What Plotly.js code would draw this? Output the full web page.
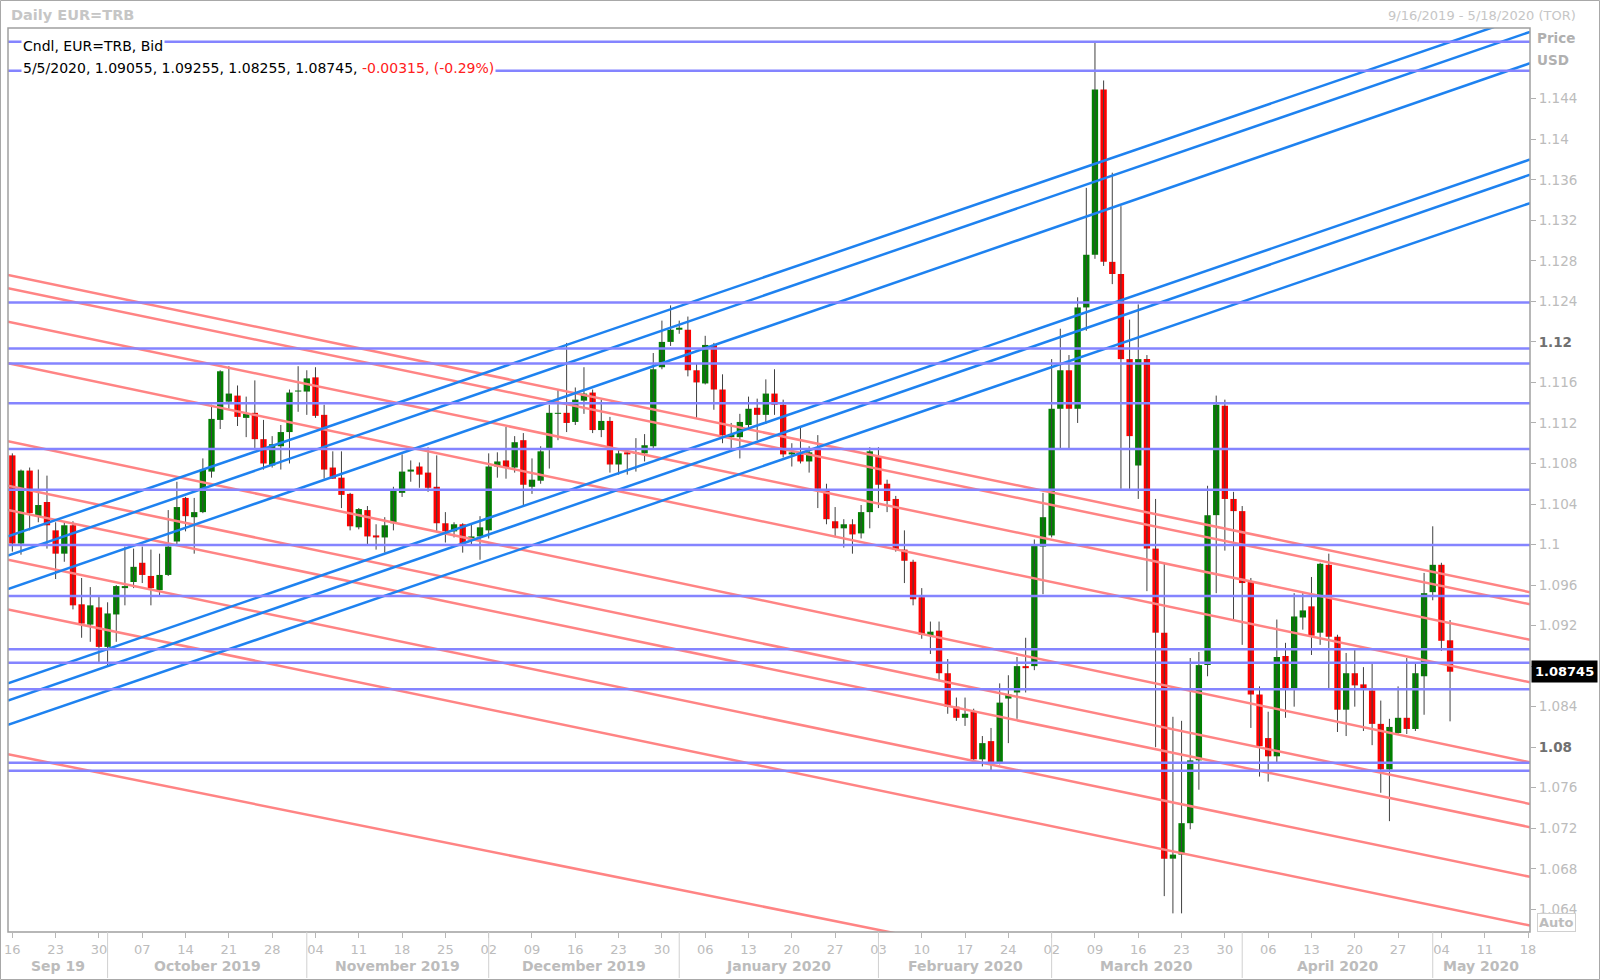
<!DOCTYPE html>
<html><head><meta charset="utf-8">
<script src="https://cdn.plot.ly/plotly-3.0.1.min.js"></script>
<style>html,body{margin:0;padding:0;background:#fff}#chart{width:1600px;height:980px}</style>
</head><body><div id="chart"></div>
<script>
// ---- data ----
const firstDay = '2019-09-16';
const axisLastDay = '2020-05-18';
const openP = [1.1088,1.1001,1.1073,1.1028,1.1042,1.1014,1.0991,1.1019,1.0941,1.0921,
1.0938,1.0899,1.0931,1.0957,1.0963,1.0982,1.0969,1.0955,1.0970,1.1003,
1.1046,1.1027,1.1032,1.1072,1.1123,1.1141,1.1147,1.1125,1.1130,1.1104,
1.1078,1.1097,1.1111,1.1151,1.1151,1.1165,1.1128,1.1076,1.1066,1.1050,
1.1017,1.1034,1.1009,1.1007,1.1021,1.1051,1.1072,1.1077,1.1071,1.1057,
1.1021,1.1013,1.1020,1.1005,1.1008,1.1014,1.1077,1.1083,1.1076,1.1103,
1.1057,1.1063,1.1095,1.1129,1.1130,1.1121,1.1142,1.1150,1.1113,1.1122,
1.1079,1.1091,1.1090,1.1090,1.1097,1.1175,1.1200,1.1212,1.1212,1.1172,
1.1159,1.1197,1.1153,1.1106,1.1106,1.1118,1.1135,1.1128,1.1149,1.1138,
1.1089,1.1089,1.1082,1.1094,1.1053,1.1023,1.1016,1.1020,1.1011,1.1032,
1.1087,1.1060,1.1045,1.0995,1.0983,1.0948,1.0910,1.0915,1.0873,1.0840,
1.0829,1.0835,1.0788,1.0806,1.0785,1.0848,1.0854,1.0880,1.0880,1.0998,
1.1009,1.1134,1.1172,1.1134,1.1234,1.1286,1.1449,1.1279,1.1267,1.1183,
1.1078,1.1183,1.0996,1.0913,1.0690,1.0694,1.0725,1.0787,1.0881,1.1029,
1.1137,1.1045,1.1033,1.0963,1.0852,1.0809,1.0791,1.0890,1.0858,1.0928,
1.0939,1.0913,1.0980,1.0909,1.0837,1.0873,1.0862,1.0856,1.0823,1.0778,
1.0814,1.0829,1.0818,1.0870,1.0953,1.0980,1.09055];
const highP = [1.1090,1.1074,1.1076,1.1074,1.1068,1.1022,1.1022,1.1023,1.0967,1.0958,
1.0949,1.0943,1.0960,1.0998,1.0996,1.0998,1.0995,1.0991,1.1034,1.1062,
1.1047,1.1046,1.1085,1.1138,1.1172,1.1176,1.1157,1.1146,1.1162,1.1123,
1.1107,1.1118,1.1153,1.1176,1.1172,1.1175,1.1138,1.1092,1.1092,1.1051,
1.1036,1.1038,1.1020,1.1027,1.1057,1.1089,1.1083,1.1081,1.1096,1.1088,
1.1032,1.1022,1.1021,1.1020,1.1028,1.1090,1.1091,1.1116,1.1107,1.1110,
1.1085,1.1097,1.1138,1.1153,1.1199,1.1155,1.1175,1.1153,1.1143,1.1126,
1.1093,1.1093,1.1105,1.1109,1.1189,1.1221,1.1236,1.1221,1.1225,1.1179,
1.1206,1.1199,1.1168,1.1120,1.1129,1.1146,1.1144,1.1163,1.1173,1.1143,
1.1100,1.1116,1.1097,1.1108,1.1060,1.1037,1.1025,1.1025,1.1039,1.1096,
1.1096,1.1064,1.1048,1.1014,1.0985,1.0957,1.0924,1.0924,1.0887,1.0849,
1.0849,1.0838,1.0811,1.0819,1.0863,1.0871,1.0889,1.0908,1.1005,1.1051,
1.1183,1.1213,1.1187,1.1244,1.1352,1.1495,1.1458,1.1367,1.1334,1.1222,
1.1237,1.1187,1.1045,1.0981,1.0830,1.0826,1.0888,1.0894,1.1058,1.1147,
1.1143,1.1052,1.1038,1.0967,1.0860,1.0835,1.0926,1.0903,1.0952,1.0952,
1.0968,1.0982,1.0991,1.0911,1.0893,1.0896,1.0879,1.0884,1.0846,1.0828,
1.0860,1.0888,1.0884,1.0972,1.1018,1.0982,1.09255];
const lowP = [1.0993,1.0990,1.1014,1.1022,1.0996,1.0966,1.0983,1.0936,1.0908,1.0904,
1.0884,1.0880,1.0904,1.0940,1.0957,1.0962,1.0940,1.0949,1.0969,1.1000,
1.1013,1.0991,1.1031,1.1066,1.1114,1.1134,1.1117,1.1106,1.1095,1.1074,
1.1076,1.1074,1.1080,1.1131,1.1128,1.1125,1.1065,1.1065,1.1036,1.1014,
1.1015,1.1000,1.0995,1.0992,1.1014,1.1047,1.1062,1.1056,1.1052,1.1013,
1.1002,1.1007,1.0992,1.1000,1.0985,1.1006,1.1066,1.1065,1.1071,1.1039,
1.1050,1.1060,1.1075,1.1103,1.1111,1.1118,1.1129,1.1110,1.1106,1.1071,
1.1069,1.1069,1.1072,1.1082,1.1095,1.1173,1.1196,1.1208,1.1166,1.1125,
1.1158,1.1133,1.1100,1.1095,1.1085,1.1114,1.1103,1.1119,1.1128,1.1086,
1.1077,1.1080,1.1071,1.1036,1.1020,1.1007,1.0997,1.0991,1.1006,1.1016,
1.1036,1.1032,1.0993,1.0962,1.0940,1.0907,1.0892,1.0866,1.0833,1.0826,
1.0821,1.0785,1.0781,1.0777,1.0783,1.0804,1.0828,1.0854,1.0876,1.0951,
1.1007,1.1095,1.1095,1.1120,1.1211,1.1282,1.1275,1.1257,1.1055,1.1055,
1.1045,1.0954,1.0800,1.0653,1.0636,1.0636,1.0719,1.0758,1.0870,1.0952,
1.0994,1.0926,1.0901,1.0819,1.0771,1.0766,1.0784,1.0829,1.0840,1.0916,
1.0891,1.0901,1.0857,1.0815,1.0811,1.0840,1.0816,1.0802,1.0755,1.0727,
1.0812,1.0813,1.0816,1.0832,1.0945,1.0895,1.08255];
const closeP = [1.1001,1.1073,1.1031,1.1039,1.1019,1.0991,1.1019,1.0940,1.0922,1.0940,
1.0899,1.0932,1.0959,1.0959,1.0978,1.0970,1.0957,1.0970,1.0998,1.1037,
1.1028,1.1032,1.1074,1.1124,1.1171,1.1149,1.1126,1.1129,1.1104,1.1080,
1.1099,1.1111,1.1150,1.1152,1.1164,1.1127,1.1074,1.1065,1.1049,1.1018,
1.1035,1.1008,1.1007,1.1019,1.1053,1.1072,1.1074,1.1069,1.1056,1.1021,
1.1013,1.1020,1.1001,1.1008,1.1017,1.1077,1.1082,1.1076,1.1101,1.1059,
1.1064,1.1092,1.1130,1.1130,1.1120,1.1143,1.1149,1.1113,1.1122,1.1079,
1.1090,1.1089,1.1091,1.1098,1.1173,1.1200,1.1212,1.1214,1.1172,1.1160,
1.1197,1.1153,1.1108,1.1109,1.1121,1.1134,1.1128,1.1149,1.1138,1.1089,
1.1091,1.1082,1.1091,1.1055,1.1025,1.1016,1.1020,1.1010,1.1032,1.1092,
1.1059,1.1043,1.0995,1.0984,1.0946,1.0911,1.0914,1.0873,1.0840,1.0829,
1.0833,1.0788,1.0804,1.0785,1.0844,1.0852,1.0880,1.0878,1.0999,1.1027,
1.1134,1.1172,1.1134,1.1234,1.1286,1.1449,1.1279,1.1267,1.1183,1.1107,
1.1183,1.0996,1.0913,1.0690,1.0694,1.0725,1.0787,1.0881,1.1029,1.1138,
1.1045,1.1033,1.0962,1.0852,1.0801,1.0791,1.0889,1.0858,1.0929,1.0935,
1.0910,1.0981,1.0909,1.0837,1.0873,1.0861,1.0858,1.0823,1.0778,1.0820,
1.0829,1.0818,1.0873,1.0952,1.0980,1.0905,1.08745];

const hLevels = [1.14963,1.14676,1.1239,1.11935,1.11787,1.11395,1.10943,1.10540,1.09996,1.09492,1.08966,1.08833,1.08571,1.07847,1.07768];
const trendAnchorDays = [-0.5, 175.23];
const blueStart = [1.1008,1.0989,1.0956,1.0863,1.0846,1.0822];
const blueEnd   = [1.1523,1.1506,1.1475,1.1380,1.1365,1.1337];
const pinkStart = [1.1266,1.1253,1.1220,1.1179,1.1102,1.1058,1.1034,1.0985,1.0936,1.0793];
const pinkEnd   = [1.0953,1.0941,1.0906,1.0864,1.0785,1.0744,1.0721,1.0672,1.0624,1.0490];

const yTicks = [1.064,1.068,1.072,1.076,1.08,1.084,1.088,1.092,1.096,1.1,1.104,1.108,1.112,1.116,1.12,1.124,1.128,1.132,1.136,1.14,1.144];
const yTickText = ['1.064','1.068','1.072','1.076','1.08','1.084','1.088','1.092','1.096','1.1','1.104','1.108','1.112','1.116','1.12','1.124','1.128','1.132','1.136','1.14','1.144'];
const boldTicks = ['1.08','1.12'];
const coveredTicks = ['1.088'];   // hidden behind the last-price tag in the reference
const monthNames = ['Sep 19','October 2019','November 2019','December 2019','January 2020','February 2020','March 2020','April 2020','May 2020'];
const lastQuote = {date:'5/5/2020', o:'1.09055', h:'1.09255', l:'1.08255', c:'1.08745', chg:'-0.00315', pct:'(-0.29%)'};

// ---- build ----
function tradingDays(a, b){
  const out = []; const d = new Date(a+'T00:00:00Z'); const e = new Date(b+'T00:00:00Z');
  while (d <= e){ const w = d.getUTCDay(); if (w>0 && w<6) out.push(new Date(d)); d.setUTCDate(d.getUTCDate()+1); }
  return out;
}
const days = tradingDays(firstDay, axisLastDay);
const n = openP.length;
const xs = openP.map((_, i) => i);
const xMin = trendAnchorDays[0], xMax = trendAnchorDays[1];

const tickVals = [], tickText = [];
days.forEach((d, i) => { if (d.getUTCDay() === 1){ tickVals.push(i); tickText.push(String(d.getUTCDate()).padStart(2,'0')); } });
const monthStarts = [];
days.forEach((d, i) => { if (i>0 && d.getUTCMonth() !== days[i-1].getUTCMonth()) monthStarts.push(i); });

const GREEN = '#008000', RED = '#ff0000';
const bodyBase = xs.map(i => Math.min(openP[i], closeP[i]));
const bodyH = xs.map(i => Math.max(Math.abs(closeP[i]-openP[i]), 0.00009));
const bodyCol = xs.map(i => closeP[i] >= openP[i] ? GREEN : RED);

const wx = [], wy = [];
xs.forEach(i => { wx.push(i, i, null); wy.push(lowP[i], highP[i], null); });

function segs(starts, ends){
  const x = [], y = [];
  starts.forEach((s, k) => { x.push(xMin, xMax, null); y.push(s, ends[k], null); });
  return {x, y};
}
const hs = segs(hLevels, hLevels);
const bs = segs(blueStart, blueEnd);
const ps = segs(pinkStart, pinkEnd);

const traces = [
  {type:'scatter', mode:'lines', x:wx, y:wy, line:{color:'#404040', width:1}, hoverinfo:'skip', showlegend:false},
  {type:'bar', x:xs, y:bodyH, base:bodyBase, marker:{color:bodyCol, line:{width:0}}, hoverinfo:'skip', showlegend:false},
  {type:'scatter', mode:'lines', x:ps.x, y:ps.y, line:{color:'#ff8484', width:2.5}, hoverinfo:'skip', showlegend:false},
  {type:'scatter', mode:'lines', x:bs.x, y:bs.y, line:{color:'#1e82f0', width:2.5}, hoverinfo:'skip', showlegend:false},
  {type:'scatter', mode:'lines', x:hs.x, y:hs.y, line:{color:'#8484ff', width:2.5}, hoverinfo:'skip', showlegend:false}
];

// pixel -> paper helpers (plot area: x 8..1530, y 28..932)
const PL = 8, PR = 1530, PT = 28, PB = 932;
const xp = px => (px - PL) / (PR - PL);
const yp = py => (PB - py) / (PB - PT);

const FONT = 'DejaVu Sans, Verdana, sans-serif';
const LIGHT = '#bcbcbc';

const shapes = [
  {type:'rect', xref:'paper', yref:'paper', x0:0, x1:1, y0:0, y1:1, line:{color:'#a0a0a0', width:1.5}, layer:'above'},
  {type:'rect', xref:'paper', yref:'paper', x0:xp(0.5), x1:xp(1599.5), y0:yp(979.5), y1:yp(0.5), line:{color:'#a8a8a8', width:1}, layer:'above'}
];
monthStarts.forEach(i => shapes.push({type:'line', xref:'x', yref:'paper', x0:i, x1:i, y0:0, y1:yp(978), line:{color:'#d0d0d0', width:1}}));

const annotations = [];
const bounds = [xMin].concat(monthStarts).concat([xMax]);
monthNames.forEach((m, k) => {
  annotations.push({xref:'x', yref:'paper', x:(bounds[k]+bounds[k+1])/2, y:yp(966), text:'<b>'+m+'</b>', showarrow:false,
    xanchor:'center', yanchor:'middle', font:{family:FONT, size:14, color:LIGHT}});
});
annotations.push({xref:'paper', yref:'paper', x:xp(9), y:yp(15), text:'<b>Daily EUR=TRB</b>', showarrow:false, xanchor:'left', yanchor:'middle', font:{family:FONT, size:14.5, color:'#c6c6c6'}});
annotations.push({xref:'paper', yref:'paper', x:xp(1578), y:yp(15), text:'9/16/2019 - 5/18/2020 (TOR)', showarrow:false, xanchor:'right', yanchor:'middle', font:{family:FONT, size:13, color:'#c6c6c6'}});
annotations.push({xref:'paper', yref:'paper', x:xp(1535), y:yp(38), text:'<b>Price</b>', showarrow:false, xanchor:'left', yanchor:'middle', font:{family:FONT, size:13.5, color:'#b0b0b0'}});
annotations.push({xref:'paper', yref:'paper', x:xp(1535), y:yp(60), text:'<b>USD</b>', showarrow:false, xanchor:'left', yanchor:'middle', font:{family:FONT, size:13.5, color:'#b0b0b0'}});
annotations.push({xref:'paper', yref:'paper', x:xp(21), y:yp(46), text:'Cndl, EUR=TRB, Bid', showarrow:false, xanchor:'left', yanchor:'middle', bgcolor:'#ffffff', borderpad:1, font:{family:FONT, size:14, color:'#000000'}});
annotations.push({xref:'paper', yref:'paper', x:xp(21), y:yp(68),
  text: [lastQuote.date, lastQuote.o, lastQuote.h, lastQuote.l, lastQuote.c].join(', ') + ', <span style="color:#ff2020">' + lastQuote.chg + ', ' + lastQuote.pct + '</span>',
  showarrow:false, xanchor:'left', yanchor:'middle', bgcolor:'#ffffff', borderpad:1, font:{family:FONT, size:14, color:'#000000'}});
annotations.push({xref:'paper', yref:'y', x:xp(1531), y:closeP[n-1], text:'<b>'+lastQuote.c+'</b>', showarrow:false, xanchor:'left', yanchor:'middle', bgcolor:'#000000', borderpad:3, font:{family:FONT, size:13, color:'#ffffff'}});
annotations.push({xref:'paper', yref:'paper', x:xp(1537), y:yp(922), text:'<b>Auto</b>', showarrow:false, xanchor:'left', yanchor:'middle', bordercolor:'#d0d0d0', borderwidth:1, borderpad:1, font:{family:FONT, size:13, color:'#bdbdbd'}});

const yText = yTickText.map(t => coveredTicks.includes(t) ? '' :
  (boldTicks.includes(t) ? '<b><span style="color:#707070">'+t+'</span></b>' : t));

const layout = {
  width:1600, height:980,
  margin:{l:PL, r:1600-PR, t:PT, b:980-PB},
  paper_bgcolor:'#ffffff', plot_bgcolor:'#ffffff',
  showlegend:false, hovermode:false, bargap:0.27,
  xaxis:{type:'linear', range:[xMin, xMax], tickmode:'array', tickvals:tickVals, ticktext:tickText,
    ticks:'outside', ticklen:5, tickcolor:'#b8b8b8', tickfont:{family:FONT, size:13, color:LIGHT},
    showgrid:false, zeroline:false, showline:false, fixedrange:true},
  yaxis:{side:'right', range:[1.06176, 1.15098], tickmode:'array', tickvals:yTicks, ticktext:yText,
    ticks:'outside', ticklen:5, tickcolor:'#b0b0b0', tickfont:{family:FONT, size:13.5, color:LIGHT},
    showgrid:false, zeroline:false, showline:false, fixedrange:true},
  shapes: shapes,
  annotations: annotations
};

Plotly.newPlot('chart', traces, layout, {staticPlot:true, displayModeBar:false});
</script>
</body></html>
